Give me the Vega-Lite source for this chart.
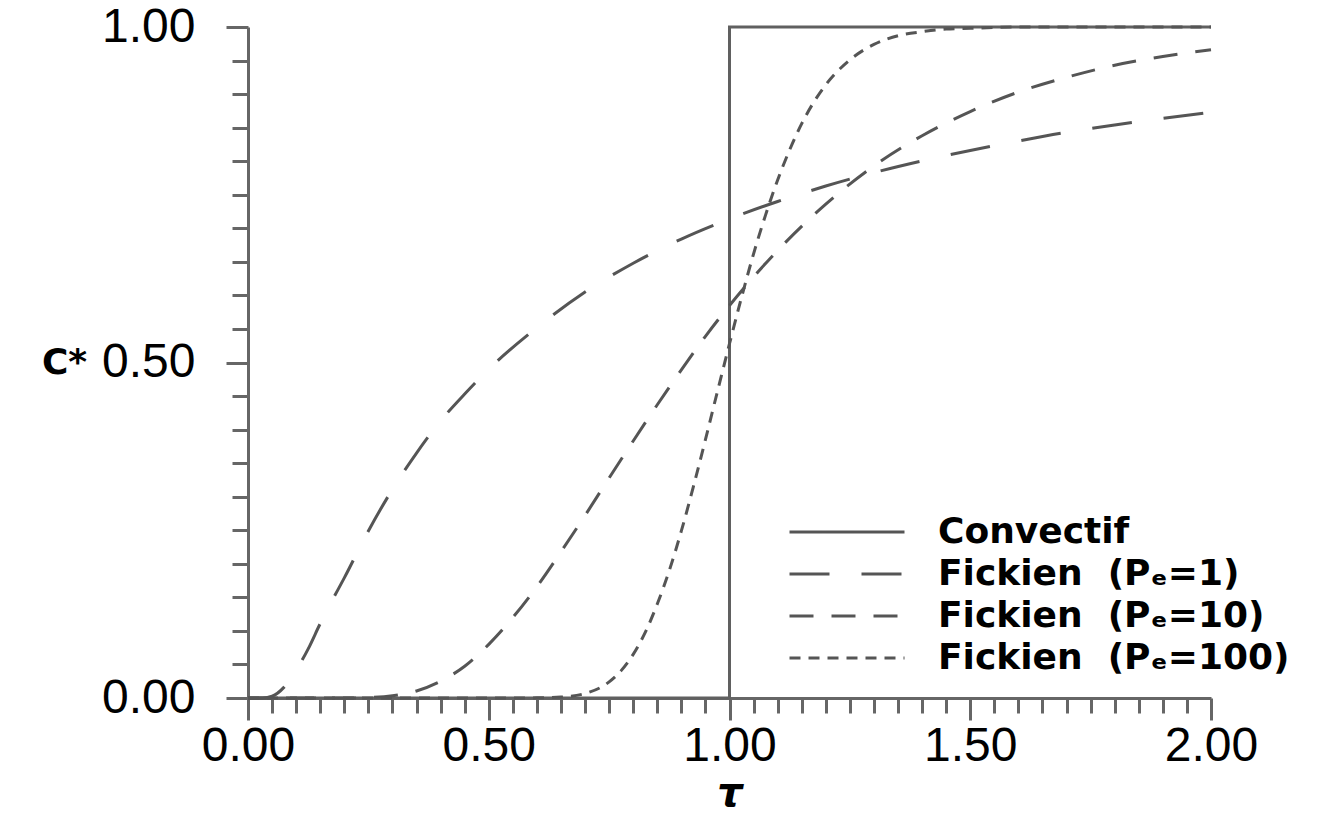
{
  "$schema": "https://vega.github.io/schema/vega-lite/v6.json",
  "width": 963,
  "height": 671,
  "autosize": {"type": "none"},
  "padding": {"left": 248, "top": 27, "right": 112, "bottom": 116},
  "background": "white",
  "config": {
    "view": {"stroke": null},
    "axis": {
      "grid": false,
      "domainColor": "#666666",
      "domainWidth": 3,
      "tickColor": "#666666",
      "tickWidth": 3,
      "labelFont": "Liberation Sans",
      "labelFontSize": 48,
      "labelColor": "black"
    }
  },
  "datasets": {
    "curves": [
      {"s": "Fickien\u00a0\u00a0(Pₑ=1)", "t": 0, "c": 0},
      {"s": "Fickien\u00a0\u00a0(Pₑ=1)", "t": 0.03, "c": 0.0001},
      {"s": "Fickien\u00a0\u00a0(Pₑ=1)", "t": 0.05, "c": 0.0026},
      {"s": "Fickien\u00a0\u00a0(Pₑ=1)", "t": 0.075, "c": 0.0162},
      {"s": "Fickien\u00a0\u00a0(Pₑ=1)", "t": 0.1, "c": 0.0414},
      {"s": "Fickien\u00a0\u00a0(Pₑ=1)", "t": 0.125, "c": 0.0732},
      {"s": "Fickien\u00a0\u00a0(Pₑ=1)", "t": 0.15, "c": 0.111},
      {"s": "Fickien\u00a0\u00a0(Pₑ=1)", "t": 0.175, "c": 0.1456},
      {"s": "Fickien\u00a0\u00a0(Pₑ=1)", "t": 0.2, "c": 0.179},
      {"s": "Fickien\u00a0\u00a0(Pₑ=1)", "t": 0.25, "c": 0.249},
      {"s": "Fickien\u00a0\u00a0(Pₑ=1)", "t": 0.3, "c": 0.311},
      {"s": "Fickien\u00a0\u00a0(Pₑ=1)", "t": 0.35, "c": 0.365},
      {"s": "Fickien\u00a0\u00a0(Pₑ=1)", "t": 0.4, "c": 0.413},
      {"s": "Fickien\u00a0\u00a0(Pₑ=1)", "t": 0.45, "c": 0.453},
      {"s": "Fickien\u00a0\u00a0(Pₑ=1)", "t": 0.5, "c": 0.49},
      {"s": "Fickien\u00a0\u00a0(Pₑ=1)", "t": 0.6, "c": 0.552},
      {"s": "Fickien\u00a0\u00a0(Pₑ=1)", "t": 0.7, "c": 0.605},
      {"s": "Fickien\u00a0\u00a0(Pₑ=1)", "t": 0.8, "c": 0.648},
      {"s": "Fickien\u00a0\u00a0(Pₑ=1)", "t": 0.9, "c": 0.684},
      {"s": "Fickien\u00a0\u00a0(Pₑ=1)", "t": 1.0, "c": 0.714},
      {"s": "Fickien\u00a0\u00a0(Pₑ=1)", "t": 1.1, "c": 0.74},
      {"s": "Fickien\u00a0\u00a0(Pₑ=1)", "t": 1.2, "c": 0.763},
      {"s": "Fickien\u00a0\u00a0(Pₑ=1)", "t": 1.3, "c": 0.783},
      {"s": "Fickien\u00a0\u00a0(Pₑ=1)", "t": 1.4, "c": 0.8005},
      {"s": "Fickien\u00a0\u00a0(Pₑ=1)", "t": 1.5, "c": 0.816},
      {"s": "Fickien\u00a0\u00a0(Pₑ=1)", "t": 1.6, "c": 0.83},
      {"s": "Fickien\u00a0\u00a0(Pₑ=1)", "t": 1.7, "c": 0.843},
      {"s": "Fickien\u00a0\u00a0(Pₑ=1)", "t": 1.8, "c": 0.854},
      {"s": "Fickien\u00a0\u00a0(Pₑ=1)", "t": 1.9, "c": 0.864},
      {"s": "Fickien\u00a0\u00a0(Pₑ=1)", "t": 2.0, "c": 0.873},

      {"s": "Fickien\u00a0\u00a0(Pₑ=10)", "t": 0, "c": 0},
      {"s": "Fickien\u00a0\u00a0(Pₑ=10)", "t": 0.2, "c": 0},
      {"s": "Fickien\u00a0\u00a0(Pₑ=10)", "t": 0.25, "c": 0.0007},
      {"s": "Fickien\u00a0\u00a0(Pₑ=10)", "t": 0.3, "c": 0.0034},
      {"s": "Fickien\u00a0\u00a0(Pₑ=10)", "t": 0.35, "c": 0.0105},
      {"s": "Fickien\u00a0\u00a0(Pₑ=10)", "t": 0.4, "c": 0.0251},
      {"s": "Fickien\u00a0\u00a0(Pₑ=10)", "t": 0.45, "c": 0.0474},
      {"s": "Fickien\u00a0\u00a0(Pₑ=10)", "t": 0.5, "c": 0.08},
      {"s": "Fickien\u00a0\u00a0(Pₑ=10)", "t": 0.55, "c": 0.12},
      {"s": "Fickien\u00a0\u00a0(Pₑ=10)", "t": 0.6, "c": 0.166},
      {"s": "Fickien\u00a0\u00a0(Pₑ=10)", "t": 0.65, "c": 0.218},
      {"s": "Fickien\u00a0\u00a0(Pₑ=10)", "t": 0.7, "c": 0.272},
      {"s": "Fickien\u00a0\u00a0(Pₑ=10)", "t": 0.75, "c": 0.328},
      {"s": "Fickien\u00a0\u00a0(Pₑ=10)", "t": 0.8, "c": 0.383},
      {"s": "Fickien\u00a0\u00a0(Pₑ=10)", "t": 0.85, "c": 0.437},
      {"s": "Fickien\u00a0\u00a0(Pₑ=10)", "t": 0.9, "c": 0.489},
      {"s": "Fickien\u00a0\u00a0(Pₑ=10)", "t": 0.95, "c": 0.539},
      {"s": "Fickien\u00a0\u00a0(Pₑ=10)", "t": 1.0, "c": 0.585},
      {"s": "Fickien\u00a0\u00a0(Pₑ=10)", "t": 1.1, "c": 0.667},
      {"s": "Fickien\u00a0\u00a0(Pₑ=10)", "t": 1.2, "c": 0.736},
      {"s": "Fickien\u00a0\u00a0(Pₑ=10)", "t": 1.3, "c": 0.793},
      {"s": "Fickien\u00a0\u00a0(Pₑ=10)", "t": 1.4, "c": 0.838},
      {"s": "Fickien\u00a0\u00a0(Pₑ=10)", "t": 1.5, "c": 0.874},
      {"s": "Fickien\u00a0\u00a0(Pₑ=10)", "t": 1.6, "c": 0.903},
      {"s": "Fickien\u00a0\u00a0(Pₑ=10)", "t": 1.7, "c": 0.925},
      {"s": "Fickien\u00a0\u00a0(Pₑ=10)", "t": 1.8, "c": 0.943},
      {"s": "Fickien\u00a0\u00a0(Pₑ=10)", "t": 1.9, "c": 0.956},
      {"s": "Fickien\u00a0\u00a0(Pₑ=10)", "t": 2.0, "c": 0.966},

      {"s": "Fickien\u00a0\u00a0(Pₑ=100)", "t": 0, "c": 0},
      {"s": "Fickien\u00a0\u00a0(Pₑ=100)", "t": 0.55, "c": 0},
      {"s": "Fickien\u00a0\u00a0(Pₑ=100)", "t": 0.6, "c": 0.0002},
      {"s": "Fickien\u00a0\u00a0(Pₑ=100)", "t": 0.65, "c": 0.0014},
      {"s": "Fickien\u00a0\u00a0(Pₑ=100)", "t": 0.7, "c": 0.0067},
      {"s": "Fickien\u00a0\u00a0(Pₑ=100)", "t": 0.75, "c": 0.024},
      {"s": "Fickien\u00a0\u00a0(Pₑ=100)", "t": 0.775, "c": 0.0408},
      {"s": "Fickien\u00a0\u00a0(Pₑ=100)", "t": 0.8, "c": 0.065},
      {"s": "Fickien\u00a0\u00a0(Pₑ=100)", "t": 0.825, "c": 0.0977},
      {"s": "Fickien\u00a0\u00a0(Pₑ=100)", "t": 0.85, "c": 0.14},
      {"s": "Fickien\u00a0\u00a0(Pₑ=100)", "t": 0.875, "c": 0.19},
      {"s": "Fickien\u00a0\u00a0(Pₑ=100)", "t": 0.9, "c": 0.249},
      {"s": "Fickien\u00a0\u00a0(Pₑ=100)", "t": 0.925, "c": 0.315},
      {"s": "Fickien\u00a0\u00a0(Pₑ=100)", "t": 0.95, "c": 0.385},
      {"s": "Fickien\u00a0\u00a0(Pₑ=100)", "t": 0.975, "c": 0.457},
      {"s": "Fickien\u00a0\u00a0(Pₑ=100)", "t": 1.0, "c": 0.528},
      {"s": "Fickien\u00a0\u00a0(Pₑ=100)", "t": 1.025, "c": 0.597},
      {"s": "Fickien\u00a0\u00a0(Pₑ=100)", "t": 1.05, "c": 0.662},
      {"s": "Fickien\u00a0\u00a0(Pₑ=100)", "t": 1.075, "c": 0.72},
      {"s": "Fickien\u00a0\u00a0(Pₑ=100)", "t": 1.1, "c": 0.772},
      {"s": "Fickien\u00a0\u00a0(Pₑ=100)", "t": 1.125, "c": 0.817},
      {"s": "Fickien\u00a0\u00a0(Pₑ=100)", "t": 1.15, "c": 0.856},
      {"s": "Fickien\u00a0\u00a0(Pₑ=100)", "t": 1.175, "c": 0.888},
      {"s": "Fickien\u00a0\u00a0(Pₑ=100)", "t": 1.2, "c": 0.914},
      {"s": "Fickien\u00a0\u00a0(Pₑ=100)", "t": 1.25, "c": 0.951},
      {"s": "Fickien\u00a0\u00a0(Pₑ=100)", "t": 1.3, "c": 0.974},
      {"s": "Fickien\u00a0\u00a0(Pₑ=100)", "t": 1.35, "c": 0.987},
      {"s": "Fickien\u00a0\u00a0(Pₑ=100)", "t": 1.4, "c": 0.993},
      {"s": "Fickien\u00a0\u00a0(Pₑ=100)", "t": 1.45, "c": 0.997},
      {"s": "Fickien\u00a0\u00a0(Pₑ=100)", "t": 1.5, "c": 0.998},
      {"s": "Fickien\u00a0\u00a0(Pₑ=100)", "t": 1.6, "c": 1.0},
      {"s": "Fickien\u00a0\u00a0(Pₑ=100)", "t": 2.0, "c": 1.0}
    ],
    "convectif": [
      {"s": "Convectif", "t": 0, "c": 0, "i": 0},
      {"s": "Convectif", "t": 1, "c": 0, "i": 1},
      {"s": "Convectif", "t": 1, "c": 1, "i": 2},
      {"s": "Convectif", "t": 2, "c": 1, "i": 3}
    ]
  },
  "layer": [
    {
      "data": {"name": "convectif"},
      "mark": {"type": "line", "strokeWidth": 3, "color": "#606060", "interpolate": "linear"},
      "encoding": {
        "x": {
          "field": "t", "type": "quantitative",
          "scale": {"domain": [0, 2], "nice": false, "zero": false},
          "axis": {
            "orient": "bottom", "values": [0, 0.5, 1, 1.5, 2], "format": ".2f",
            "tickSize": 22, "labelPadding": 2, "labelFlush": false, "labelOverlap": false,
            "title": "τ", "titleFont": "DejaVu Sans", "titleFontSize": 40, "titleFontWeight": "bold",
            "titleFontStyle": "italic", "titleColor": "black", "titlePadding": 3
          }
        },
        "y": {
          "field": "c", "type": "quantitative",
          "scale": {"domain": [0, 1], "nice": false},
          "axis": {
            "orient": "left", "values": [0, 0.5, 1], "format": ".2f",
            "tickSize": 22, "labelPadding": 31, "labelFlush": false, "labelOverlap": false,
            "title": "C*", "titleFont": "DejaVu Sans", "titleFontSize": 36, "titleFontWeight": "bold",
            "titleColor": "black", "titleAngle": 0, "titleAlign": "center", "titleBaseline": "middle",
            "titleX": -184, "titleY": 335
          }
        },
        "strokeDash": {
          "field": "s", "type": "nominal",
          "scale": {
            "domain": ["Convectif", "Fickien\u00a0\u00a0(Pₑ=1)", "Fickien\u00a0\u00a0(Pₑ=10)", "Fickien\u00a0\u00a0(Pₑ=100)"],
            "range": [[1, 0], [40, 32], [24, 18], [11, 8]]
          },
          "legend": {
            "title": null, "orient": "none", "legendX": 540, "legendY": 485,
            "symbolType": "stroke", "symbolSize": 13225, "symbolStrokeWidth": 3, "symbolStrokeColor": "#606060",
            "labelFont": "DejaVu Sans", "labelFontSize": 36, "labelFontWeight": "bold", "labelColor": "black",
            "labelOffset": 32, "labelLimit": 0, "rowPadding": 2, "clipHeight": 40
          }
        },
        "order": {"field": "i"}
      }
    },
    {
      "data": {"name": "curves"},
      "mark": {"type": "line", "strokeWidth": 3, "color": "#555555", "interpolate": "monotone"},
      "encoding": {
        "x": {"field": "t", "type": "quantitative", "axis": null},
        "y": {"field": "c", "type": "quantitative", "axis": null},
        "strokeDash": {"field": "s", "type": "nominal"}
      }
    },
    {
      "data": {"name": "curves"},
      "mark": {"type": "point", "opacity": 0},
      "encoding": {
        "x": {
          "field": "t", "type": "quantitative",
          "axis": {
            "orient": "bottom", "values": [0.05,0.1,0.15,0.2,0.25,0.3,0.35,0.4,0.45,0.55,0.6,0.65,0.7,0.75,0.8,0.85,0.9,0.95,1.05,1.1,1.15,1.2,1.25,1.3,1.35,1.4,1.45,1.55,1.6,1.65,1.7,1.75,1.8,1.85,1.9,1.95],
            "tickSize": 15, "labels": false, "domain": false, "title": null
          }
        },
        "y": {
          "field": "c", "type": "quantitative",
          "axis": {
            "orient": "left", "values": [0.05,0.1,0.15,0.2,0.25,0.3,0.35,0.4,0.45,0.55,0.6,0.65,0.7,0.75,0.8,0.85,0.9,0.95],
            "tickSize": 16, "labels": false, "domain": false, "title": null
          }
        }
      }
    }
  ],
  "resolve": {"axis": {"x": "independent", "y": "independent"}}
}
